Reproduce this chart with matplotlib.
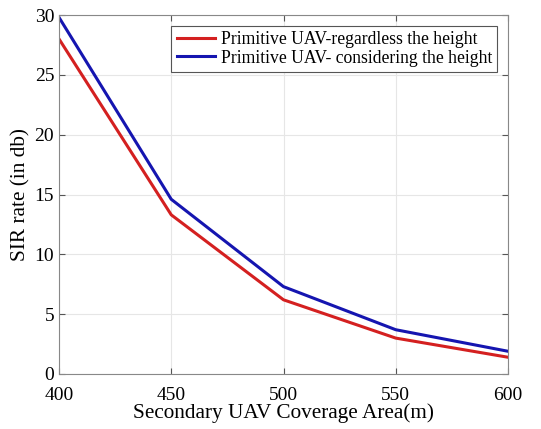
import matplotlib
matplotlib.use("Agg")
import matplotlib.pyplot as plt

x = [400, 450, 500, 550, 600]
red_vals = [28.0, 13.3, 6.2, 3.0, 1.4]
blue_vals = [29.8, 14.6, 7.3, 3.7, 1.9]
labels = ["Primitive UAV-regardless the height", "Primitive UAV- considering the height"]

plt.rcParams['font.family'] = ['Liberation Serif', 'DejaVu Serif']

fig = plt.figure(figsize=(5.41, 4.29), dpi=100)
ax = fig.add_axes([59/541, 1 - 374/429, (508-59)/541, (374-15)/429])
ax.plot(x, red_vals, color='#d42020', lw=2.2, label=labels[0])
ax.plot(x, blue_vals, color='#1515b0', lw=2.2, label=labels[1])
ax.set_xlim(400, 600)
ax.set_ylim(0, 30)
ax.set_xticks([400, 450, 500, 550, 600])
ax.set_yticks([0, 5, 10, 15, 20, 25, 30])
ax.grid(True, color='#e6e6e6', lw=0.8)
ax.set_axisbelow(True)
ax.tick_params(direction='in', labelsize=14, length=4, color='#555555', top=True, right=True, labeltop=False, labelright=False)
ax.tick_params(axis='x', pad=9)
for s in ax.spines.values():
    s.set_color('#888888')
    s.set_linewidth(0.8)
ax.set_xlabel('Secondary UAV Coverage Area(m)', fontsize=15.3, labelpad=0)
ax.set_ylabel('SIR rate (in db)', fontsize=15.3, labelpad=3)
leg = ax.legend(loc='upper right', fontsize=12.7, fancybox=False, edgecolor='#555555',
                framealpha=1, handlelength=2.2, handletextpad=0.3, borderpad=0.3,
                labelspacing=0.1, borderaxespad=0.6)
leg.get_frame().set_linewidth(0.8)
fig.savefig('out.png', dpi=100)
